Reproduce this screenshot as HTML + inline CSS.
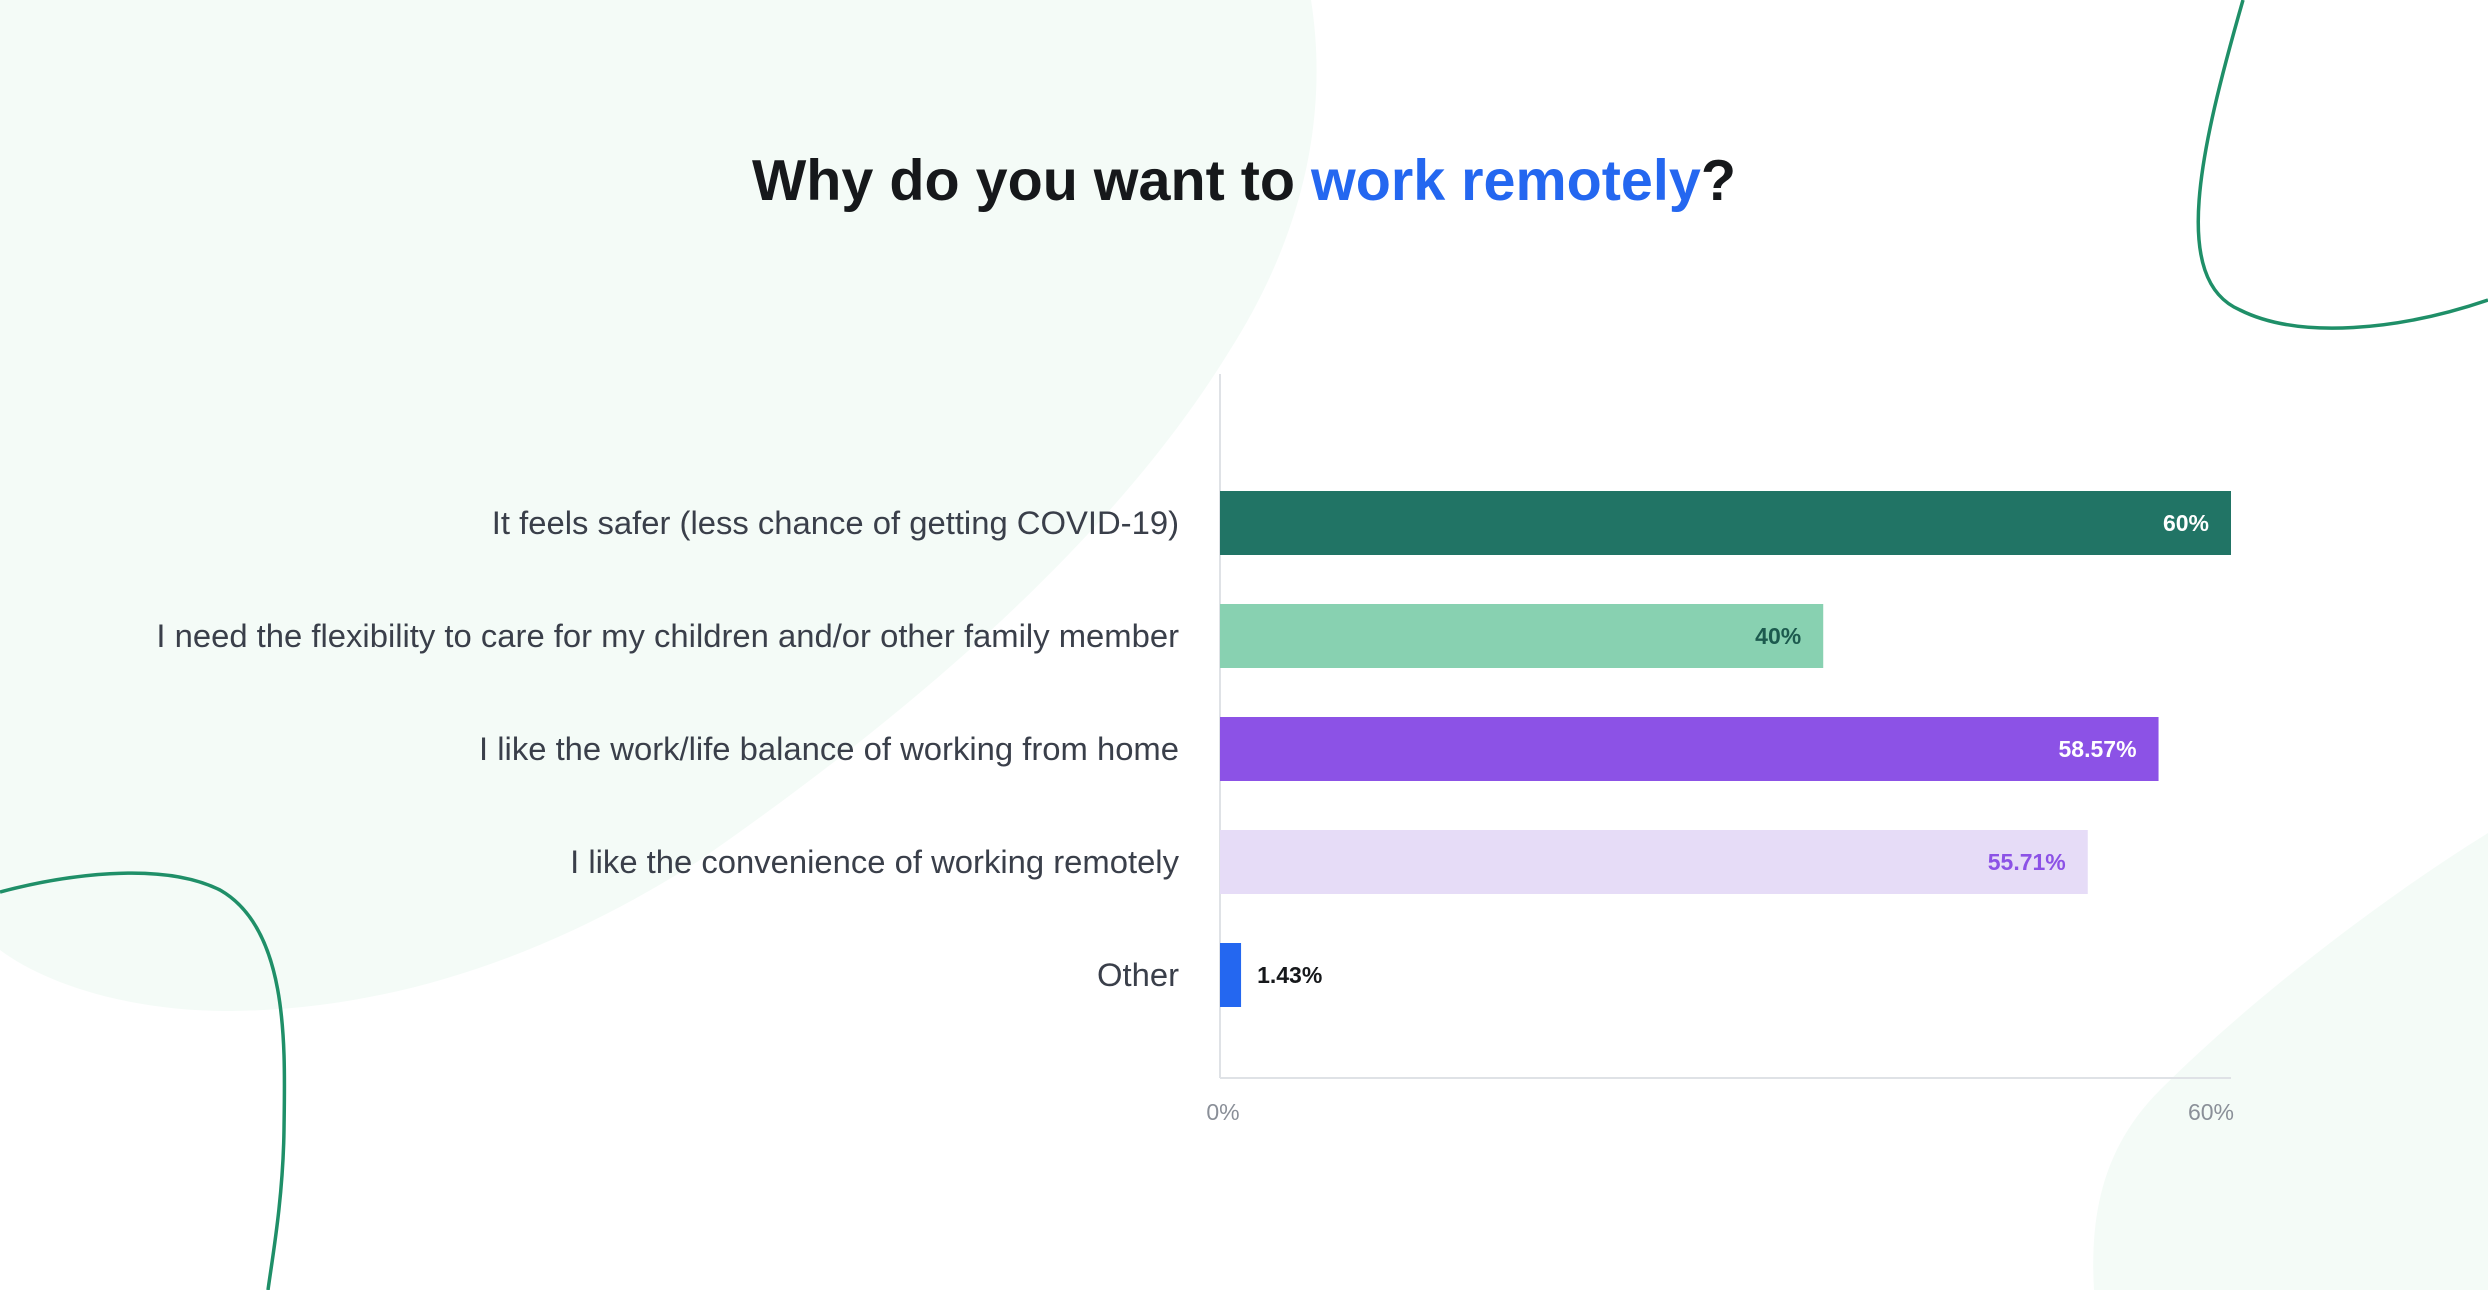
<!DOCTYPE html>
<html><head><meta charset="utf-8"><style>
html,body{margin:0;padding:0;background:#fff;}
svg{display:block;font-family:"Liberation Sans",sans-serif;}
</style></head><body>
<svg width="2488" height="1290" viewBox="0 0 2488 1290">
<path d="M0 0 L1311 0 C1330 120 1300 240 1230 350 C1120 530 930 700 700 860 C560 950 400 1010 230 1011 C120 1011 40 980 0 950 Z" fill="#f4fbf7"/>
<path d="M2488 833 C2380 900 2250 1000 2160 1090 C2100 1150 2090 1220 2094 1290 L2488 1290 Z" fill="#f4fbf7"/>
<path d="M2243 0 C2200 150 2170 280 2240 310 C2300 340 2400 330 2488 300" fill="none" stroke="#1f8f68" stroke-width="3.5"/>
<path d="M0 892 C60 876 160 860 220 890 C290 930 285 1050 284 1130 C283 1200 272 1260 268 1290" fill="none" stroke="#1f8f68" stroke-width="3.5"/>
<text x="1244" y="200" text-anchor="middle" font-size="57.5" font-weight="bold" fill="#16181b">Why do you want to <tspan fill="#2467f0">work remotely</tspan>?</text>
<g id="plot"></g>
</svg>
<script>
const categories=["It feels safer (less chance of getting COVID-19)","I need the flexibility to care for my children and/or other family member","I like the work/life balance of working from home","I like the convenience of working remotely","Other"];
const values=[60,35.8,55.7,51.5,1.25];
const valueLabels=["60%","40%","58.57%","55.71%","1.43%"];
const xTicks=[0,60];
const xTickLabels=["0%","60%"];
const barColors=["#217465","#88d1b1","#8c52e6","#e6dcf7","#2467f0"];
const labelColors=["#ffffff","#1c5a4e","#ffffff","#8c52e6","#16181b"];
const NS="http://www.w3.org/2000/svg";
const g=document.getElementById('plot');
const x0=1220,x1=2231,xMax=60;
const xs=v=>x0+(x1-x0)*v/xMax;
const yTop=491,step=113,bh=64;
const ys=i=>yTop+i*step;
function mk(t,a){const e=document.createElementNS(NS,t);for(const k in a)e.setAttribute(k,a[k]);g.appendChild(e);return e;}
let ax=mk('line',{x1:x0,y1:374,x2:x0,y2:1078,stroke:'#dfe2e6','stroke-width':2});


let bx=mk('line',{x1:x0,y1:1078,x2:x1,y2:1078,stroke:'#dfe2e6','stroke-width':2});


xTicks.forEach((t,i)=>{
  const e=mk('text',{x:i==0?xs(t)+3:xs(t)+3,y:1120,'text-anchor':i==0?'middle':'end','font-size':23,fill:'#8a8f98'});
  e.textContent=xTickLabels[i];
  
  
});
categories.forEach((c,i)=>{
  const y=ys(i);
  const l=mk('text',{x:1179,y:y+bh/2+11,'text-anchor':'end','font-size':32.8,fill:'#3a3f4a'});
  l.textContent=c;
  
  
  const w=xs(values[i])-x0;
  const r=mk('rect',{x:x0,y:y,width:w,height:bh,fill:barColors[i]});
  
  
  const inside=w>150;
  const v=mk('text',{x:inside?x0+w-22:x0+w+16,y:y+bh/2+8,'text-anchor':inside?'end':'start','font-size':23,'font-weight':'bold',fill:labelColors[i]});
  v.textContent=valueLabels[i];
  
  
});
</script>
</body></html>
